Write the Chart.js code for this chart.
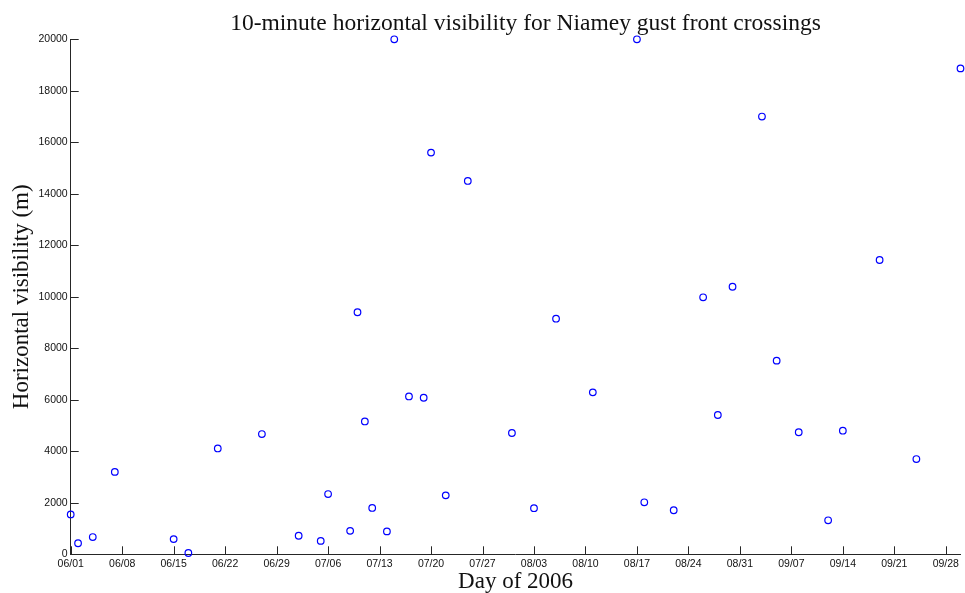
<!DOCTYPE html>
<html>
<head>
<meta charset="utf-8">
<script src="https://cdn.jsdelivr.net/npm/chart.js@4/dist/chart.umd.min.js"></script>
<style>
    html, body { margin: 0; padding: 0; background: #fff; }
    #wrap { width: 965px; height: 593px; }
</style>
</head>
<body>
<div id="wrap"><canvas id="visChart"></canvas></div>
<script>
// Gust front crossing dates (2006) and 10-minute visibility (m)
const crossingDates = [
    '06/01', '06/02', '06/04', '06/07', '06/15', '06/17', '06/21', '06/27',
    '07/02', '07/05', '07/06', '07/09', '07/10', '07/11', '07/12', '07/14',
    '07/15', '07/17', '07/19', '07/20', '07/22', '07/25', '07/31', '08/03',
    '08/06', '08/11', '08/17', '08/18', '08/22', '08/26', '08/28', '08/30',
    '09/03', '09/05', '09/08', '09/12', '09/14', '09/19', '09/24', '09/30'
];
const visibility = [
    1550, 430, 670, 3200, 590, 50, 4110, 4670,
    720, 520, 2340, 910, 9400, 5160, 1800, 890,
    20000, 6130, 6080, 15600, 2290, 14500, 4710, 1790,
    9150, 6290, 20000, 2020, 1710, 9980, 5410, 10390,
    17000, 7520, 4740, 1320, 4800, 11430, 3700, 18870
];
const dayTicks = [
    '06/01', '06/08', '06/15', '06/22', '06/29', '07/06', '07/13', '07/20', '07/27',
    '08/03', '08/10', '08/17', '08/24', '08/31', '09/07', '09/14', '09/21', '09/28'
];
const startDate = '06/01';
const endDate = '09/30';

// days since June 1st
function dayIndex(md) {
    const [m, d] = md.split('/').map(Number);
    const [m0, d0] = startDate.split('/').map(Number);
    return Math.round((Date.UTC(2006, m - 1, d) - Date.UTC(2006, m0 - 1, d0)) / 86400000);
}

const points = crossingDates.map((d, i) => ({ x: dayIndex(d), y: visibility[i] }));
const tickDays = dayTicks.map(dayIndex);

const axisColor = '#262626';
const serif = "'Liberation Serif', 'Times New Roman', serif";
const sans = "'Liberation Sans', Arial, sans-serif";

// MATLAB-style ticks pointing into the plot
const innerTicks = {
    id: 'innerTicks',
    afterLayout(chart) {
        // nudge the title a bit right of the canvas centre
        if (chart.titleBlock) chart.titleBlock.left += 88;
    },
    afterDatasetsDraw(chart) {
        const { ctx, chartArea, scales } = chart;
        const len = 8;
        ctx.save();
        ctx.strokeStyle = axisColor;
        ctx.lineWidth = 1;
        ctx.beginPath();
        scales.x.ticks.forEach(t => {
            const px = Math.round(scales.x.getPixelForValue(t.value)) + 0.5;
            ctx.moveTo(px, chartArea.bottom);
            ctx.lineTo(px, chartArea.bottom - len);
        });
        scales.y.ticks.forEach(t => {
            const py = Math.round(scales.y.getPixelForValue(t.value)) + 0.5;
            ctx.moveTo(chartArea.left, py);
            ctx.lineTo(chartArea.left + len, py);
        });
        ctx.stroke();
        ctx.restore();
    }
};

new Chart(document.getElementById('visChart'), {
    type: 'scatter',
    data: {
        datasets: [{
            data: points,
            pointStyle: 'circle',
            pointRadius: 3.3,
            pointHoverRadius: 3.3,
            pointBorderWidth: 1.2,
            pointBorderColor: '#0000ff',
            pointBackgroundColor: 'rgba(0,0,0,0)',
            clip: false
        }]
    },
    options: {
        responsive: true,
        maintainAspectRatio: false,
        animation: false,
        layout: { padding: { left: 0, right: 2, top: 0, bottom: 0 } },
        plugins: {
            legend: { display: false },
            tooltip: { enabled: false },
            title: {
                display: true,
                text: '10-minute horizontal visibility for Niamey gust front crossings',
                color: '#111',
                font: { family: serif, size: 23.5, weight: 'normal' },
                padding: { top: 9.6, bottom: 1.5 }
            }
        },
        scales: {
            x: {
                type: 'linear',
                min: 0,
                max: dayIndex(endDate),
                afterBuildTicks: s => { s.ticks = tickDays.map(v => ({ value: v })); },
                afterFit: s => {
                    s.height = 38.7;
                    s.paddingLeft = 0; s.paddingRight = 0;
                },
                grid: { display: false, drawTicks: false },
                border: { display: true, color: axisColor, width: 1 },
                ticks: {
                    autoSkip: false,
                    maxRotation: 0,
                    padding: 4,
                    color: '#111',
                    font: { family: sans, size: 10.5 },
                    callback: v => dayTicks[tickDays.indexOf(v)] || ''
                },
                title: {
                    display: true,
                    text: 'Day of 2006',
                    color: '#111',
                    font: { family: serif, size: 23 },
                    padding: { top: 0, bottom: -3 }
                }
            },
            y: {
                min: 0,
                max: 20000,
                afterFit: s => {
                    s.width = 70.7;
                    s.paddingTop = 0; s.paddingBottom = 0;
                },
                grid: { display: false, drawTicks: false },
                border: { display: true, color: axisColor, width: 1 },
                ticks: {
                    stepSize: 2000,
                    padding: 3,
                    color: '#111',
                    font: { family: sans, size: 10.5 },
                    callback: v => String(v)
                },
                title: {
                    display: true,
                    text: 'Horizontal visibility (m)',
                    color: '#111',
                    font: { family: serif, size: 23 },
                    padding: { top: 8, bottom: 0 }
                }
            }
        }
    },
    plugins: [innerTicks]
});
</script>
</body>
</html>
